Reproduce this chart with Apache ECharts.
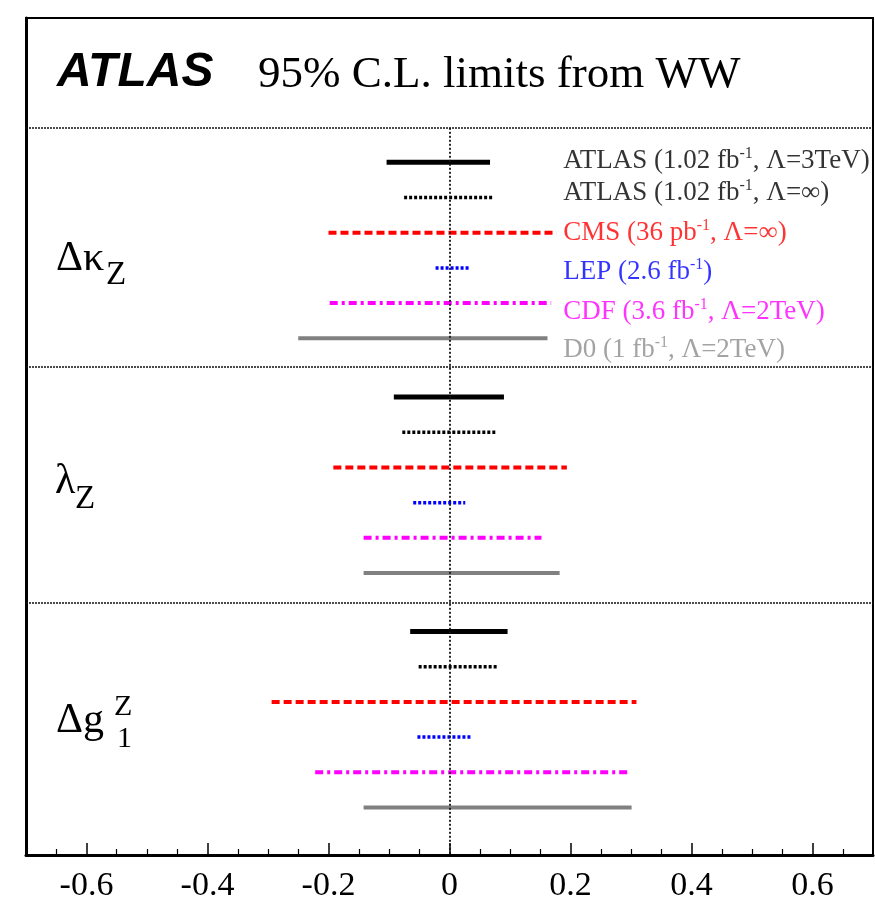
<!DOCTYPE html>
<html><head><meta charset="utf-8">
<script src="https://cdn.jsdelivr.net/npm/echarts@6/dist/echarts.min.js"></script>
<style>html,body{margin:0;padding:0;background:#fff}#c{width:875px;height:906px}</style>
</head><body><div id="c"></div>
<script>
// ---- data ----
const parameters = ['Δκ_Z', 'λ_Z', 'Δg1_Z'];
const experimentMain = ['ATLAS (1.02 fb', 'ATLAS (1.02 fb', 'CMS (36 pb', 'LEP (2.6 fb', 'CDF (3.6 fb', 'D0 (1 fb'];
const experimentSup  = ['-1', '-1', '-1', '-1', '-1', '-1'];
const experimentTail = [', Λ=3TeV)', ', Λ=∞)', ', Λ=∞)', ')', ', Λ=2TeV)', ', Λ=2TeV)'];
// 95% C.L. lower / upper limits per experiment (order as above)
const dKappaZLow  = [-0.104, -0.075, -0.200, -0.023, -0.198, -0.250];
const dKappaZHigh = [ 0.067,  0.071,  0.177,  0.034,  0.168,  0.162];
const lambdaZLow  = [-0.092, -0.078, -0.192, -0.060, -0.142, -0.142];
const lambdaZHigh = [ 0.090,  0.077,  0.194,  0.026,  0.152,  0.182];
const dg1ZLow     = [-0.065, -0.051, -0.294, -0.053, -0.222, -0.142];
const dg1ZHigh    = [ 0.096,  0.081,  0.309,  0.035,  0.296,  0.301];
const xTickLabels = [-0.6, -0.4, -0.2, 0, 0.2, 0.4, 0.6];
const xMinorTicks = [-0.65, -0.55, -0.5, -0.45, -0.35, -0.3, -0.25, -0.15, -0.1, -0.05,
                     0.05, 0.1, 0.15, 0.25, 0.3, 0.35, 0.45, 0.5, 0.55, 0.65];

// ---- layout (row positions on the hidden vertical axis) ----
const Y_MAX = 23.78;
const sectionTop = [4.1, 10.77, 17.43];
const separators = [3.12, 9.92, 16.6];
const legendY = [4.06, 4.97, 6.11, 7.22, 8.35, 9.43];
const legendX = 0.188;

// ---- styles ----
const colors = ['#000000', '#000000', '#ff0000', '#0000ff', '#ff00ff', '#808080'];
const labelColors = ['#000000', '#000000', '#ff0000', '#0000ff', '#ff00ff', '#8c8c8c'];
const lineStyles = [
  {width: 5, type: 'solid'},
  {width: 3.5, type: [3, 2]},
  {width: 4, type: [8, 4]},
  {width: 3.5, type: [3, 2]},
  {width: 4, type: [8, 4, 3, 4]},
  {width: 4, type: 'solid'}
];

const lows = [dKappaZLow, lambdaZLow, dg1ZLow];
const highs = [dKappaZHigh, lambdaZHigh, dg1ZHigh];

const series = [];
for (let s = 0; s < 3; s++) {
  for (let i = 0; i < 6; i++) {
    const y = sectionTop[s] + i;
    series.push({
      type: 'line', symbol: 'none', silent: true, animation: false,
      data: [[lows[s][i], y], [highs[s][i], y]],
      lineStyle: Object.assign({color: colors[i], cap: 'butt'}, lineStyles[i]),
      z: 3
    });
  }
}
// separators and zero line
series.push({
  type: 'line', data: [], silent: true, animation: false,
  markLine: {
    silent: true, symbol: 'none', label: {show: false}, animation: false,
    lineStyle: {color: '#111', width: 1.5, type: [2, 1]},
    data: separators.map(v => ({yAxis: v})).concat([
      [{coord: [0, separators[0]], lineStyle: {width: 1.8, type: [2, 2], color: '#111'}}, {coord: [0, Y_MAX]}]
    ])
  },
  z: 4
});
// legend labels
series.push({
  type: 'scatter', symbolSize: 0, silent: true, animation: false,
  data: experimentMain.map((m, i) => ({
    value: [legendX, legendY[i]],
    label: {
      show: true, position: 'right', distance: 0,
      formatter: '{t|' + m + '}{s|' + experimentSup[i] + '}{t|' + experimentTail[i] + '}',
      rich: {
        t: {fontFamily: '"Liberation Serif", serif', fontSize: 27, color: labelColors[i], lineHeight: 30},
        s: {fontFamily: '"Liberation Serif", serif', fontSize: 16, color: labelColors[i], verticalAlign: 'top'}
      }
    }
  })),
  z: 5
});

const chart = echarts.init(document.getElementById('c'), null, {renderer: 'canvas'});
const serif = '"Liberation Serif", "Times New Roman", serif';
const gridBox = {left: 26, right: 2, top: 18, bottom: 51};
chart.setOption({
  animation: false,
  backgroundColor: '#fff',
  grid: [
    Object.assign({show: true, borderColor: '#000', borderWidth: 2, containLabel: false}, gridBox),
    Object.assign({show: false, containLabel: false}, gridBox)
  ],
  xAxis: [{
    type: 'value', min: -0.7, max: 0.7, position: 'bottom', gridIndex: 0,
    axisLine: {show: true, onZero: false, lineStyle: {color: '#000', width: 3}},
    axisTick: {show: true, inside: true, length: 12, lineStyle: {color: '#000', width: 1.5}, customValues: xTickLabels},
    axisLabel: {show: true, customValues: xTickLabels, fontFamily: serif, fontSize: 34, color: '#000', margin: 14},
    splitLine: {show: false}
  }, {
    type: 'value', min: -0.7, max: 0.7, position: 'bottom', gridIndex: 1,
    axisLine: {show: false, onZero: false},
    axisTick: {show: true, inside: true, length: 6, lineStyle: {color: '#000', width: 1.2}, customValues: xMinorTicks},
    axisLabel: {show: false},
    splitLine: {show: false}
  }],
  yAxis: [{
    type: 'value', inverse: true, min: 0, max: Y_MAX, gridIndex: 0,
    axisLine: {show: true, onZero: false, lineStyle: {color: '#000', width: 3}},
    axisTick: {show: false}, axisLabel: {show: false}, splitLine: {show: false}
  }, {
    type: 'value', inverse: true, min: 0, max: Y_MAX, gridIndex: 1, show: false,
    axisLine: {show: false, onZero: false}
  }],
  series: series
});

// title and parameter names (text annotations)
const tl = chart.convertToPixel({xAxisIndex: 0, yAxisIndex: 0}, [-0.7, 0]);
const pk = chart.convertToPixel({xAxisIndex: 0, yAxisIndex: 0}, [-0.7, sectionTop[0] + 2.75]);
const pl = chart.convertToPixel({xAxisIndex: 0, yAxisIndex: 0}, [-0.7, sectionTop[1] + 2.4]);
const pg = chart.convertToPixel({xAxisIndex: 0, yAxisIndex: 0}, [-0.7, sectionTop[2] + 2.55]);
function txt(x, y, s, size) {
  return {type: 'text', x: x, y: y, silent: true,
    style: {text: s, fontFamily: serif, fontSize: size, fill: '#000', verticalAlign: 'middle', align: 'left'}};
}
chart.setOption({
  graphic: [
    {type: 'text', x: tl[0] + 31, y: tl[1] + 55, silent: true,
     style: {text: 'ATLAS', fontFamily: '"Liberation Sans", Arial, sans-serif', fontStyle: 'italic', fontWeight: 'bold', fontSize: 48, fill: '#000', verticalAlign: 'middle'}},
    txt(tl[0] + 232, tl[1] + 57, '95% C.L. limits from WW', 45),
    txt(pk[0] + 30, pk[1], 'Δκ', 42),
    txt(pk[0] + 80, pk[1] + 16, 'Z', 33),
    txt(pl[0] + 29, pl[1], 'λ', 42),
    txt(pl[0] + 49, pl[1] + 18, 'Z', 33),
    txt(pg[0] + 30, pg[1], 'Δg', 42),
    txt(pg[0] + 88, pg[1] - 14, 'Z', 30),
    txt(pg[0] + 91, pg[1] + 18, '1', 30)
  ]
});
</script>
</body></html>
